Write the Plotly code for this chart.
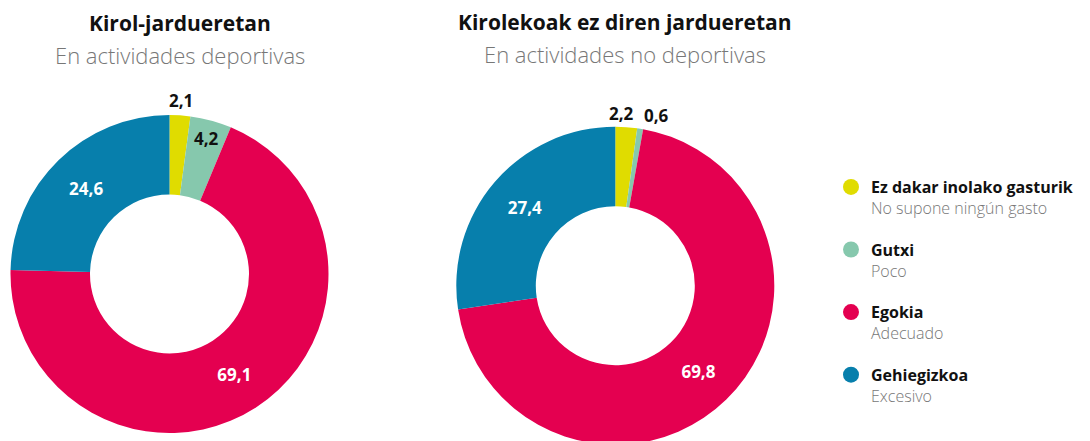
import math
import plotly.graph_objects as go

# ---- data ----
categories_eu = ["Ez dakar inolako gasturik", "Gutxi", "Egokia", "Gehiegizkoa"]
categories_es = ["No supone ningún gasto", "Poco", "Adecuado", "Excesivo"]
sport_values = [2.1, 4.2, 69.1, 24.6]
nonsport_values = [2.2, 0.6, 69.8, 27.4]
titles_eu = ["Kirol-jardueretan", "Kirolekoak ez diren jardueretan"]
titles_es = ["En actividades deportivas", "En actividades no deportivas"]

# ---- styles ----
colors = ["#E0DC00", "#86C8AD", "#E40050", "#077FAC"]
W, H = 1090, 441
OFF = 8  # page body margin
FONT = "Open Sans"


def fx(px):
    return (px - OFF) / W


def fy(py):
    return 1 - (py - OFF) / H


fig = go.Figure()

# pie geometry in page pixels: (cx, cy, r)
geoms = [(169.5, 274.0, 159.0), (615.3, 285.7, 159.0)]
small_label_r = [[174, 140], [173, 172]]
small_label_shift = [[0, 0], [-6, 14]]

for i, vals in enumerate([sport_values, nonsport_values]):
    cx, cy, r = geoms[i]
    dom_x = [fx(cx - r), fx(cx + r)]
    dom_y = [fy(cy + r), fy(cy - r)]
    fig.add_trace(go.Pie(
        values=vals,
        labels=categories_eu,
        sort=False,
        direction="clockwise",
        rotation=0,
        hole=0.5,
        marker=dict(colors=colors, line=dict(width=0)),
        texttemplate=["", "", "%{value:.1f}", "%{value:.1f}"],
        textposition=["none", "none", "inside", "inside"],
        insidetextorientation="horizontal",
        textfont=dict(family=FONT, size=17, color="white", weight="bold"),
        showlegend=False,
        hoverinfo="label+value",
        domain=dict(x=dom_x, y=dom_y),
    ))
    # labels for the two small slices
    cum = 0.0
    total = sum(vals)
    for j in range(2):
        mid = (cum + vals[j] / 2) / total
        cum += vals[j]
        th = 2 * math.pi * mid
        rr = small_label_r[i][j]
        px = cx + rr * math.sin(th) + small_label_shift[i][j]
        py = cy - rr * math.cos(th)
        fig.add_annotation(
            x=fx(px), y=fy(py), xref="paper", yref="paper",
            text=f"{vals[j]:.1f}".replace(".", ","), showarrow=False,
            font=dict(family=FONT, size=17, color="#111111", weight="bold"),
            xanchor="center", yanchor="middle",
        )

# titles
title_pos = [(179.5, 23, 55), (624.5, 22, 54)]
for i in range(2):
    x, ty, sy = title_pos[i]
    fig.add_annotation(x=fx(x), y=fy(ty), xref="paper", yref="paper",
                       text=titles_eu[i], showarrow=False,
                       font=dict(family=FONT, size=21, color="#111111", weight="bold"),
                       xanchor="center", yanchor="middle")
    fig.add_annotation(x=fx(x), y=fy(sy), xref="paper", yref="paper",
                       text=titles_es[i], showarrow=False,
                       font=dict(family=FONT, size=22, color="#777777", weight=300),
                       xanchor="center", yanchor="middle")

# legend entries via marker-only traces on a hidden axis
for k in range(4):
    fig.add_trace(go.Scatter(
        x=[None], y=[None], mode="markers",
        marker=dict(color=colors[k], size=16, symbol="circle"),
        name=f"<b>{categories_eu[k]}</b><br><span style='color:#777777;font-weight:300'>{categories_es[k]}</span>",
        legendgroup=str(k), showlegend=True, hoverinfo="skip",
    ))

fig.update_layout(
    width=W, height=H, autosize=False,
    margin=dict(l=0, r=0, t=0, b=0),
    paper_bgcolor="white", plot_bgcolor="white",
    separators=",.",
    xaxis=dict(visible=False, domain=[0.99, 1.0]),
    yaxis=dict(visible=False, domain=[0.0, 0.01]),
    legend=dict(
        x=(823) / W, y=1 - 162 / H, xanchor="left", yanchor="top",
        font=dict(family=FONT, size=16, color="#111111"),
        traceorder="grouped", tracegroupgap=18, valign="top",
        itemsizing="trace", bgcolor="rgba(0,0,0,0)",
    ),
    font=dict(family=FONT),
)

fig.write_html("out.html")
